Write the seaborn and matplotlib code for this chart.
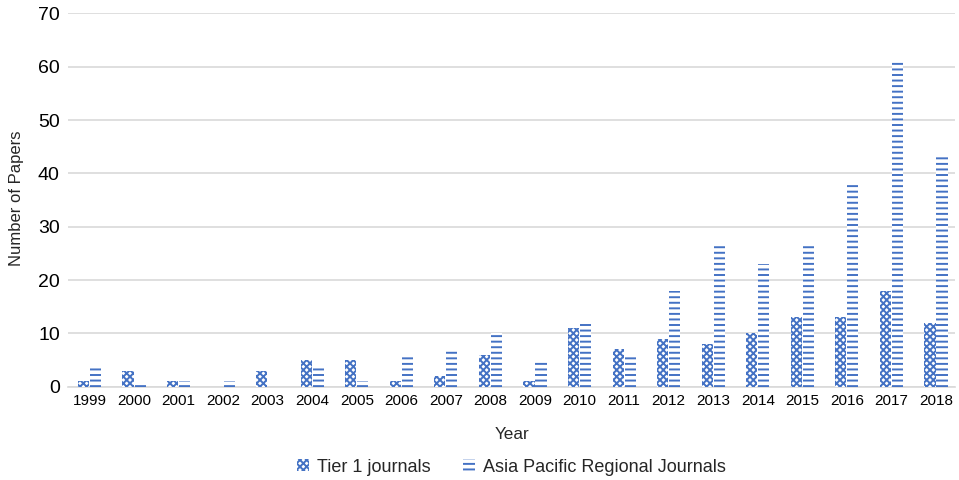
import matplotlib
matplotlib.use("Agg")
import matplotlib.pyplot as plt
import seaborn as sns
import pandas as pd

years = [str(y) for y in range(1999, 2019)]
tier1 = [1, 3, 1, 0, 3, 5, 5, 1, 2, 6, 1, 11, 7, 9, 8, 10, 13, 13, 18, 12]
asia_pacific = [4, 0.5, 1, 1, 0, 4, 1, 6, 7, 10, 5, 12, 6, 18, 27, 23, 27, 38, 61, 43]
series_names = ["Tier 1 journals", "Asia Pacific Regional Journals"]

df = pd.DataFrame({
    "Year": years * 2,
    "Papers": tier1 + asia_pacific,
    "Series": [series_names[0]] * len(years) + [series_names[1]] * len(years),
})

sns.set_style("white")
plt.rcParams['font.family'] = ['Liberation Sans', 'DejaVu Sans']
plt.rcParams['hatch.linewidth'] = 1.4

blue = "#4472C4"
fig, ax = plt.subplots(figsize=(9.59, 4.8), dpi=100)
fig.subplots_adjust(left=0.071, right=0.996, top=0.972, bottom=0.1944)

sns.barplot(data=df, x="Year", y="Papers", hue="Series", order=years,
            hue_order=series_names, width=0.54, gap=0.08, ax=ax,
            legend=False)

# Tier 1: dense blue cross pattern, Asia Pacific: blue horizontal lines
styles = [dict(face="white", edge=blue, hatch="xxxxx"),
          dict(face="white", edge=blue, hatch="---")]
for container, st in zip(ax.containers, styles):
    for bar in container:
        bar.set_facecolor(st["face"])
        bar.set_edgecolor(st["edge"])
        bar.set_hatch(st["hatch"])
        bar.set_linewidth(0)

ax.set_ylim(0, 70)
ax.set_yticks(range(0, 71, 10))
ax.set_xlim(-0.48, 19.43)
ax.yaxis.grid(True, color="#d9d9d9", linewidth=1.2)
ax.set_axisbelow(True)
for s in ["top", "right", "left"]:
    ax.spines[s].set_visible(False)
ax.spines["bottom"].set_color("#d9d9d9")
ax.spines["bottom"].set_linewidth(1.2)
ax.spines["bottom"].set_zorder(0.5)
ax.tick_params(axis="both", length=0, colors="black")
ax.tick_params(axis="x", labelsize=11, pad=5)
ax.tick_params(axis="y", labelsize=14, pad=6)
ax.set_xlabel("Year", fontsize=12.3)
ax.set_ylabel("Number of Papers", fontsize=12)
ax.xaxis.set_label_coords(0.5, -0.108)
ax.yaxis.set_label_coords(-0.0496, 0.504)

handles = [matplotlib.patches.Patch(facecolor=st["face"], edgecolor=st["edge"],
                                    hatch=st["hatch"], linewidth=0) for st in styles]
fig.legend(handles, series_names, loc="center", bbox_to_anchor=(0.5335, 0.027),
           ncol=2, frameon=False, fontsize=13, handlelength=0.67, handleheight=0.67,
           handletextpad=0.45, columnspacing=1.8)

fig.savefig("out.png", dpi=100)
